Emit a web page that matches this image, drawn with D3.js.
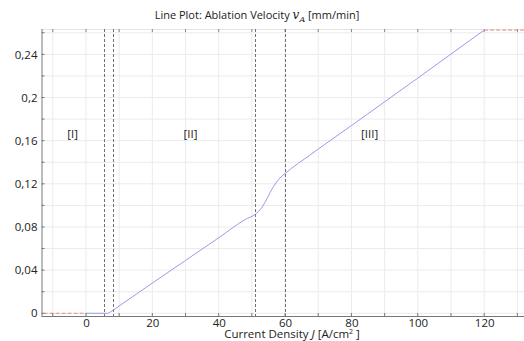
<!DOCTYPE html>
<html>
<head>
<meta charset="utf-8">
<script src="https://cdn.jsdelivr.net/npm/d3@7"></script>
<style>
  body { margin: 0; background: #fff; }
  svg { display: block; font-family: "Open Sans", sans-serif; }
</style>
</head>
<body>
<svg id="chart" width="524" height="341"></svg>
<script>
// current density J [A/cm^2] and ablation velocity [mm/min]
const jValues = [0, 6.5, 7.5, 10, 20, 30, 40, 48, 51, 53, 54.5, 56.5, 58.5, 60, 62, 64, 80, 100, 120];
const vValues = [0, 0, 0.0015, 0.0068, 0.028, 0.049, 0.07, 0.087, 0.0918, 0.098, 0.106, 0.1175, 0.1255, 0.1295, 0.1345, 0.139, 0.174, 0.218, 0.2625];
// extrapolated parts outside the valid range (red dashed)
const leftJ = [-20, 0];
const leftV = [0, 0];
const rightJ = [120, 140];
const rightV = [0.2625, 0.2625];
// region boundaries
const boundaryJ = [5.4, 8, 51, 60];
const regionNames = ['[I]', '[II]', '[III]'];
const regionJ = [-4, 31.5, 85.5];
const regionV = 0.166;
const xTicks = [0, 20, 40, 60, 80, 100, 120];
const yTicks = [0, 0.04, 0.08, 0.12, 0.16, 0.2, 0.24];

let svg = d3.select('#chart');
let plotLeft = 41.5, plotRight = 524, plotTop = 29, plotBottom = 316;

let xscale = d3.scaleLinear().domain([-13.4, 132]).range([plotLeft, plotRight]);
let yscale = d3.scaleLinear().domain([-0.0025, 0.2635]).range([plotBottom, plotTop]);

let fmt = d3.formatLocale({decimal: ',', thousands: '.', grouping: [3], currency: ['', '']}).format('~g');

svg.append('defs').append('clipPath').attr('id', 'clip')
    .append('rect')
    .attr('x', plotLeft).attr('y', plotTop)
    .attr('width', plotRight - plotLeft).attr('height', plotBottom - plotTop);

//gridlines every 10 in x and 0.02 in y
let xGrid = d3.range(-10, 131, 10);
let yGrid = d3.range(0, 0.27, 0.02);
svg.append('g').selectAll('line').data(xGrid).enter()
    .append('line')
    .attr('x1', d => xscale(d)).attr('x2', d => xscale(d))
    .attr('y1', plotTop).attr('y2', plotBottom)
    .style('stroke', '#ebebeb').style('stroke-width', 1);
svg.append('g').selectAll('line').data(yGrid).enter()
    .append('line')
    .attr('x1', plotLeft).attr('x2', plotRight)
    .attr('y1', d => yscale(d)).attr('y2', d => yscale(d))
    .style('stroke', '#ebebeb').style('stroke-width', 1);
svg.append('line')
    .attr('x1', plotLeft).attr('x2', plotRight).attr('y1', plotTop + 0.5).attr('y2', plotTop + 0.5)
    .style('stroke', '#e4e4e4');

//small ticks on top edge
svg.append('g').selectAll('line').data(xGrid).enter()
    .append('line')
    .attr('x1', d => xscale(d)).attr('x2', d => xscale(d))
    .attr('y1', plotTop).attr('y2', plotTop + 3)
    .style('stroke', '#888');

//region boundaries
svg.append('g').selectAll('line').data(boundaryJ).enter()
    .append('line')
    .attr('x1', d => Math.round(xscale(d)) + 0.5).attr('x2', d => Math.round(xscale(d)) + 0.5)
    .attr('y1', plotTop).attr('y2', plotBottom)
    .style('stroke', '#707070').style('stroke-width', 1)
    .style('stroke-dasharray', '3,2');

let line = d3.line().x(d => xscale(d[0])).y(d => yscale(d[1]));
let plot = svg.append('g').attr('clip-path', 'url(#clip)');

plot.append('path')
    .datum(d3.zip(leftJ, leftV))
    .attr('d', line)
    .style('fill', 'none').style('stroke', '#e88a8a').style('stroke-width', 1)
    .style('stroke-dasharray', '4,2');
plot.append('path')
    .datum(d3.zip(rightJ, rightV))
    .attr('d', line)
    .style('fill', 'none').style('stroke', '#e88a8a').style('stroke-width', 1)
    .style('stroke-dasharray', '4,2');
plot.append('path')
    .datum(d3.zip(jValues, vValues))
    .attr('d', line.curve(d3.curveMonotoneX))
    .style('fill', 'none').style('stroke', '#9a9af0').style('stroke-width', 1);

//region labels
svg.append('g').selectAll('text').data(regionNames).enter()
    .append('text')
    .attr('x', (d, i) => xscale(regionJ[i]))
    .attr('y', yscale(regionV) + 4)
    .attr('text-anchor', 'middle')
    .attr('font-size', '11.5px')
    .attr('fill', '#222')
    .text(d => d);

//axes
let xaxis = d3.axisBottom(xscale).tickValues(xTicks).tickSize(0).tickPadding(3).tickFormat(fmt);
let yaxis = d3.axisLeft(yscale).tickValues(yTicks).tickSize(0).tickPadding(4).tickFormat(fmt);

let gx = svg.append('g').attr('transform', `translate(0, ${plotBottom})`).call(xaxis);
gx.select('.domain').remove();
gx.selectAll('text').attr('font-size', '11.5px').attr('fill', '#222').style('font-family', 'Open Sans');
let gy = svg.append('g').attr('transform', `translate(${plotLeft}, 0)`).call(yaxis);
gy.select('.domain').remove();
gy.selectAll('text').attr('font-size', '11.5px').attr('fill', '#222').style('font-family', 'Open Sans');

//axis lines with inner ticks
svg.append('line')
    .attr('x1', plotLeft).attr('x2', plotRight).attr('y1', plotBottom + 0.5).attr('y2', plotBottom + 0.5)
    .style('stroke', '#777');
svg.append('line')
    .attr('x1', plotLeft + 0.5).attr('x2', plotLeft + 0.5).attr('y1', plotTop).attr('y2', plotBottom)
    .style('stroke', '#777');
svg.append('g').selectAll('line').data(xGrid).enter()
    .append('line')
    .attr('x1', d => xscale(d)).attr('x2', d => xscale(d))
    .attr('y1', plotBottom).attr('y2', plotBottom - 3)
    .style('stroke', '#777');
svg.append('g').selectAll('line').data(yGrid).enter()
    .append('line')
    .attr('x1', plotLeft).attr('x2', plotLeft + 3)
    .attr('y1', d => yscale(d)).attr('y2', d => yscale(d))
    .style('stroke', '#777');

//title and axis label
let title = svg.append('text')
    .attr('x', 257).attr('y', 19)
    .attr('text-anchor', 'middle')
    .attr('font-size', '11px')
    .attr('fill', '#222');
title.append('tspan').text('Line Plot: Ablation Velocity ');
title.append('tspan').text('v').attr('font-style', 'italic').attr('font-family', 'DejaVu Serif').attr('font-size', '12px');
title.append('tspan').text('A').attr('font-style', 'italic').attr('font-family', 'DejaVu Serif').attr('font-size', '8px').attr('dy', 3);
title.append('tspan').text(' [mm/min]').attr('dy', -3);

let xlabel = svg.append('text')
    .attr('x', 292).attr('y', 338)
    .attr('text-anchor', 'middle')
    .attr('font-size', '11.5px')
    .attr('fill', '#222');
xlabel.append('tspan').text('Current Density ');
xlabel.append('tspan').text('J').attr('font-style', 'italic');
xlabel.append('tspan').text(' [A/cm');
xlabel.append('tspan').text('2').attr('font-size', '7px').attr('dy', -4);
xlabel.append('tspan').text(' ]').attr('dy', 4);
</script>
</body>
</html>
